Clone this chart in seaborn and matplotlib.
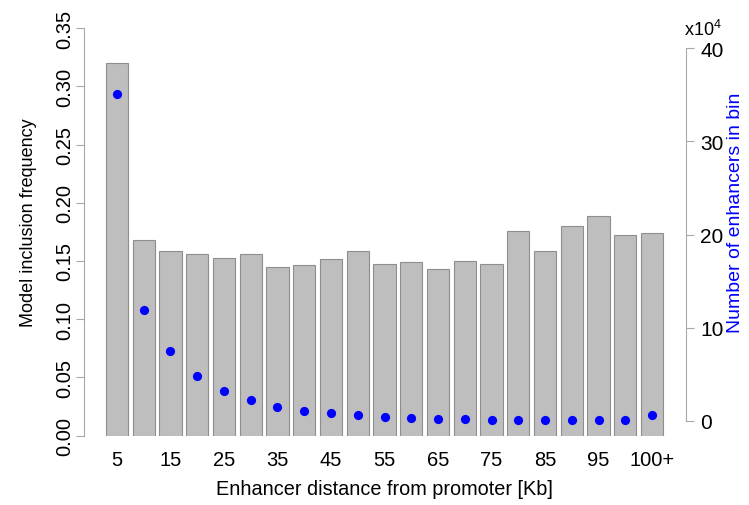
import numpy as np
import pandas as pd
import matplotlib
matplotlib.use("Agg")
import matplotlib.pyplot as plt
import seaborn as sns

# ---- data ----
distance_bins = ["5", "10", "15", "20", "25", "30", "35", "40", "45", "50",
                 "55", "60", "65", "70", "75", "80", "85", "90", "95", "100", "100+"]
inclusion_freq = [0.320, 0.168, 0.159, 0.156, 0.1525, 0.156, 0.1445, 0.1467, 0.152, 0.159,
                  0.147, 0.149, 0.143, 0.150, 0.147, 0.176, 0.159, 0.180, 0.189, 0.172, 0.174]
enhancer_counts = [350500, 119400, 75400, 48600, 32500, 22500, 15000, 11100, 8600, 6400,
                   4300, 3200, 2500, 2100, 1400, 1400, 1400, 1400, 700, 700, 6100]
shown_labels = ["5", "15", "25", "35", "45", "55", "65", "75", "85", "95", "100+"]
left_ticks = [0.00, 0.05, 0.10, 0.15, 0.20, 0.25, 0.30, 0.35]
right_ticks = [0, 10, 20, 30, 40]  # x10^4

df = pd.DataFrame({"bin": distance_bins, "freq": inclusion_freq, "count": enhancer_counts})

sns.set_theme(style="white")
plt.rcParams["font.family"] = ["Liberation Sans", "DejaVu Sans"]
plt.rcParams["mathtext.fontset"] = "custom"
plt.rcParams["mathtext.rm"] = "Liberation Sans"
plt.rcParams["mathtext.it"] = "Liberation Sans"

W, H = 749, 506
fig = plt.figure(figsize=(W / 100, H / 100), dpi=100)
# axes region in pixels
x0, x1 = 83.5, 685.5
ytop, ybot = 29.3, 436.5
ax = fig.add_axes([x0 / W, 1 - ybot / H, (x1 - x0) / W, (ybot - ytop) / H])

spine_col = "#a8a8a8"

sns.barplot(data=df, x="bin", y="freq", order=distance_bins, color="#bebebe",
            saturation=1, edgecolor="#8e8e8e", linewidth=0.8, width=1 / 1.2, ax=ax)

ax.set_xlim(-1.25, len(distance_bins) - 1 + 1.25)
ax.set_ylim(0, 0.35)

pos = {b: i for i, b in enumerate(distance_bins)}
ax.set_xticks([pos[l] for l in shown_labels])
ax.set_xticklabels(shown_labels)
ax.tick_params(axis="x", length=0, pad=10.5, labelsize=14.5, labelcolor="black")

ax.set_yticks(left_ticks)
ax.set_yticklabels([f"{t:.2f}" for t in left_ticks], rotation=90, va="center")
ax.tick_params(axis="y", direction="out", length=5.5, width=0.8, color=spine_col,
               pad=1, labelsize=14.5, labelcolor="black", left=True)

for s in ["top", "right", "bottom"]:
    ax.spines[s].set_visible(False)
ax.spines["left"].set_color(spine_col)
ax.spines["left"].set_linewidth(0.8)
ax.spines["left"].set_bounds(0, 0.35)

ax.set_xlabel("Enhancer distance from promoter [Kb]", fontsize=14.3, color="black", va="center")
ax.xaxis.set_label_coords(0.5, (ybot - 490) / (ybot - ytop))
ax.set_ylabel("Model inclusion frequency", fontsize=13, color="black", va="center")
ax.yaxis.set_label_coords((29 - x0) / (x1 - x0), (ybot - 223) / (ybot - ytop))

# right axis: counts
ax2 = ax.twinx()
sns.scatterplot(x=[pos[b] for b in df["bin"]], y=df["count"], color="blue", s=44,
                linewidth=0, ax=ax2, zorder=5)
y0px, y40px = 422.0, 49.3
per_px = 4e5 / (y0px - y40px)
ax2.set_ylim(-(ybot - y0px) * per_px, (y0px - ytop) * per_px)
ax2.set_xlim(ax.get_xlim())
ax2.set_yticks([t * 1e4 for t in right_ticks])
ax2.set_yticklabels([str(t) for t in right_ticks])
ax2.tick_params(axis="y", direction="out", length=5.5, width=0.8, color=spine_col,
                pad=5, labelsize=15, labelcolor="black", right=True)
for s in ["top", "left", "bottom"]:
    ax2.spines[s].set_visible(False)
ax2.spines["right"].set_color(spine_col)
ax2.spines["right"].set_linewidth(0.8)
ax2.spines["right"].set_bounds(0, 4e5)
ax2.set_xlabel("")
ax2.set_ylabel("Number of enhancers in bin", fontsize=14, color="blue", va="center",
               rotation=90)
ax2.yaxis.set_label_coords((736 - x0) / (x1 - x0), (ybot - 213) / (ybot - ytop))
ax2.grid(False)
ax.grid(False)

fig.text(684 / W, 1 - 36 / H, r"x10$^4$", fontsize=13, color="black", ha="left", va="baseline")

fig.savefig("out.png", dpi=100, facecolor="white")
